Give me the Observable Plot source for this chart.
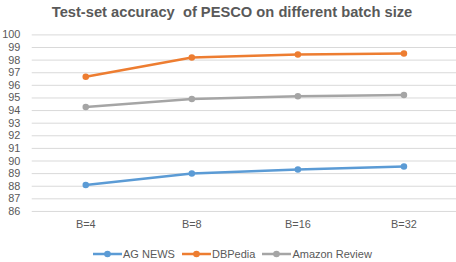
<!DOCTYPE html>
<html>
<head>
<meta charset="utf-8">
<script src="https://cdn.jsdelivr.net/npm/d3@7"></script>
<script src="https://cdn.jsdelivr.net/npm/@observablehq/plot@0.6"></script>
<style>
  html, body { margin: 0; padding: 0; background: #fff; overflow: hidden; width: 456px; height: 262px; }
  #title { height: 24px; line-height: 24px; text-align: center; font-family: "Liberation Sans", sans-serif; font-weight: bold; font-size: 14.7px; color: #595959; white-space: pre; padding-left: 8px; }
  #chart { height: 214px; }
  #legend { display: flex; justify-content: flex-start; align-items: center; height: 24px; font-family: "Liberation Sans", sans-serif; font-size: 11px; color: #595959; padding-left: 93px; margin-top: 4px; }
  .item { display: flex; align-items: center; margin-right: 7px; }
  .item svg { margin-right: 1px; }
</style>
</head>
<body>
<div id="title">Test-set accuracy  of PESCO on different batch size</div>
<div id="chart"></div>
<div id="legend"></div>
<script>
const categories = ["B=4", "B=8", "B=16", "B=32"];
const seriesNames = ["AG NEWS", "DBPedia", "Amazon Review"];
const agNews = [88.09, 89.01, 89.32, 89.56];
const dbpedia = [96.68, 98.21, 98.44, 98.52];
const amazonReview = [94.28, 94.91, 95.14, 95.24];
const yTicks = [86, 87, 88, 89, 90, 91, 92, 93, 94, 95, 96, 97, 98, 99, 100];
const colors = ["#5B9BD5", "#ED7D31", "#A5A5A5"];

const seriesValues = [agNews, dbpedia, amazonReview];
const rows = [];
seriesNames.forEach((s, i) => categories.forEach((c, j) => rows.push({series: s, batch: c, value: seriesValues[i][j]})));

const plot = Plot.plot({
  width: 460,
  height: 214,
  marginLeft: 32,
  marginRight: 0,
  marginTop: 10.5,
  marginBottom: 25.4,
  style: {fontFamily: "Liberation Sans, sans-serif", fontSize: "11px", color: "#595959", background: "white"},
  x: {type: "point", domain: categories, padding: 0.5, label: null},
  y: {domain: [86, 100], label: null},
  color: {domain: seriesNames, range: colors},
  marks: [
    Plot.gridY(yTicks, {stroke: "#D9D9D9", strokeOpacity: 1, strokeWidth: 1}),
    Plot.axisY(yTicks, {tickSize: 0, tickPadding: 12, label: null, fill: "#595959", fontSize: 11}),
    Plot.axisX({tickSize: 0, tickPadding: 9, label: null, fill: "#595959", fontSize: 11}),
    Plot.line(rows, {x: "batch", y: "value", z: "series", stroke: "series", strokeWidth: 2.5}),
    Plot.dot(rows, {x: "batch", y: "value", fill: "series", r: 3.3})
  ]
});
document.getElementById("chart").appendChild(plot);

const legend = d3.select("#legend");
seriesNames.forEach((s, i) => {
  const item = legend.append("div").attr("class", "item");
  const svg = item.append("svg").attr("width", 29).attr("height", 10);
  svg.append("line").attr("x1", 0).attr("x2", 29).attr("y1", 5).attr("y2", 5).attr("stroke", colors[i]).attr("stroke-width", 2.5);
  svg.append("circle").attr("cx", 14.5).attr("cy", 5).attr("r", 3.3).attr("fill", colors[i]);
  item.append("span").text(s);
});
</script>
</body>
</html>
